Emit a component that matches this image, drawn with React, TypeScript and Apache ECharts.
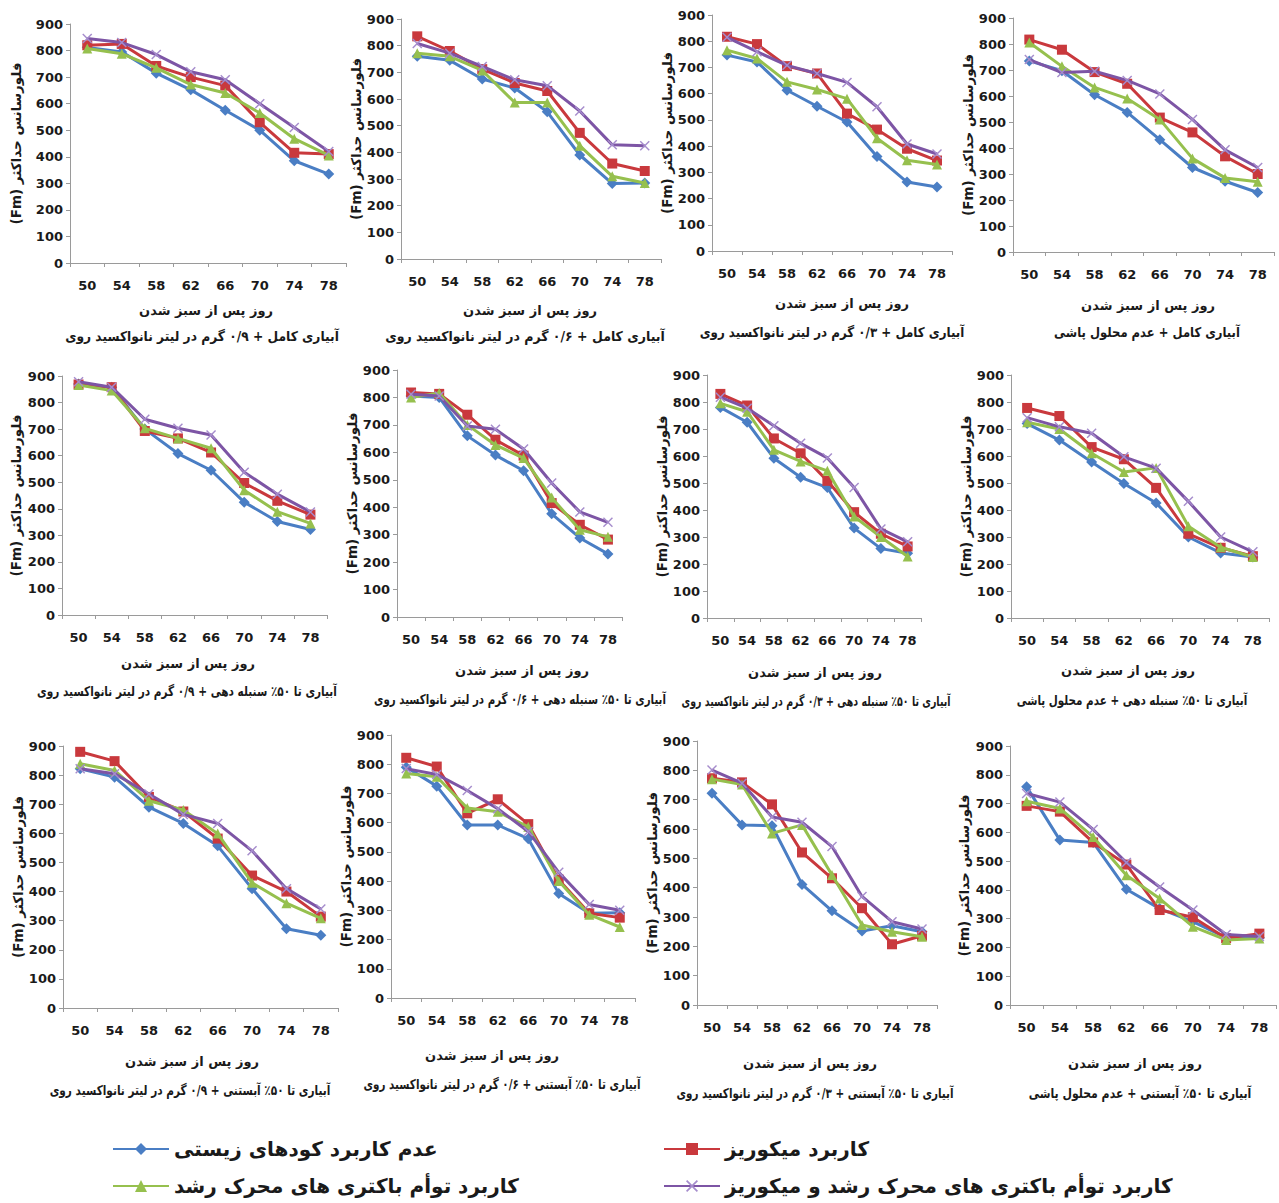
import React, { useEffect, useRef } from "react";
import * as echarts from "echarts";

// ---------- data ----------
const days = ["50", "54", "58", "62", "66", "70", "74", "78"];
const yMin = 0;
const yMax = 900;
const yStep = 100;

const seriesNames = [
  "عدم کاربرد کودهای زیستی",
  "کاربرد میکوریز",
  "کاربرد توأم باکتری های محرک رشد",
  "کاربرد توأم باکتری های محرک رشد و میکوریز",
];

const panelTitles = [
  "آبیاری کامل + ۰/۹ گرم در لیتر نانواکسید روی",
  "آبیاری کامل + ۰/۶ گرم در لیتر نانواکسید روی",
  "آبیاری کامل + ۰/۳ گرم در لیتر نانواکسید روی",
  "آبیاری کامل + عدم محلول پاشی",
  "آبیاری تا ۵۰٪ سنبله دهی + ۰/۹ گرم در لیتر نانواکسید روی",
  "آبیاری تا ۵۰٪ سنبله دهی + ۰/۶ گرم در لیتر نانواکسید روی",
  "آبیاری تا ۵۰٪ سنبله دهی + ۰/۳ گرم در لیتر نانواکسید روی",
  "آبیاری تا ۵۰٪ سنبله دهی + عدم محلول پاشی",
  "آبیاری تا ۵۰٪ آبستنی + ۰/۹ گرم در لیتر نانواکسید روی",
  "آبیاری تا ۵۰٪ آبستنی + ۰/۶ گرم در لیتر نانواکسید روی",
  "آبیاری تا ۵۰٪ آبستنی + ۰/۳ گرم در لیتر نانواکسید روی",
  "آبیاری تا ۵۰٪ آبستنی + عدم محلول پاشی",
];

const xAxisTitle = "روز پس از سبز شدن";
const yAxisTitle = "فلورسانس حداکثر (Fm)";

// each panel: [no biofertilizer, mycorrhiza, PGPR, PGPR + mycorrhiza]
const fullZn09 = [
  [812, 795, 715, 652, 575, 500, 385, 335],
  [820, 825, 742, 700, 668, 530, 415, 410],
  [808, 788, 735, 672, 640, 565, 468, 405],
  [845, 830, 785, 720, 690, 600, 510, 420],
];
const fullZn06 = [
  [760, 745, 675, 641, 552, 390, 283, 285],
  [835, 780, 712, 660, 630, 473, 358, 330],
  [772, 760, 707, 587, 587, 425, 310, 285],
  [808, 772, 722, 672, 650, 555, 428, 425],
];
const fullZn03 = [
  [747, 721, 613, 552, 492, 360, 263, 244],
  [817, 789, 705, 677, 524, 463, 390, 345],
  [766, 734, 645, 616, 581, 430, 346, 330],
  [815, 760, 708, 677, 643, 550, 408, 370],
];
const fullNoSpray = [
  [735, 697, 605, 537, 432, 325, 272, 229],
  [817, 778, 692, 647, 517, 460, 368, 300],
  [806, 714, 633, 590, 510, 360, 285, 270],
  [740, 690, 695, 660, 608, 510, 393, 325],
];
const headZn09 = [
  [870, 858, 700, 608, 545, 425, 352, 322],
  [868, 858, 693, 665, 612, 497, 430, 378],
  [866, 845, 703, 665, 628, 470, 389, 345],
  [878, 858, 737, 703, 678, 538, 455, 388],
];
const headZn06 = [
  [805, 800, 660, 590, 533, 376, 288, 230],
  [818, 813, 737, 646, 588, 415, 336, 282],
  [800, 816, 700, 627, 579, 435, 318, 292],
  [812, 805, 696, 684, 612, 488, 383, 345],
];
const headZn03 = [
  [780, 725, 592, 521, 483, 333, 257, 240],
  [830, 787, 665, 610, 508, 392, 312, 265],
  [795, 764, 623, 580, 545, 376, 300, 228],
  [818, 777, 712, 647, 593, 483, 330, 282],
];
const headNoSpray = [
  [720, 659, 578, 498, 426, 300, 241, 226],
  [778, 748, 633, 588, 482, 312, 260, 229],
  [725, 700, 610, 541, 556, 340, 262, 226],
  [742, 708, 684, 597, 555, 432, 300, 245],
];
const bootZn09 = [
  [822, 793, 690, 634, 557, 410, 272, 250],
  [880, 848, 725, 675, 582, 455, 400, 314],
  [839, 816, 712, 680, 599, 430, 360, 308],
  [822, 805, 735, 665, 634, 540, 410, 340],
];
const bootZn06 = [
  [790, 725, 592, 592, 545, 358, 290, 292],
  [822, 792, 632, 680, 595, 405, 290, 275],
  [768, 757, 650, 637, 586, 400, 285, 243],
  [785, 765, 710, 648, 570, 430, 320, 300],
];
const bootZn03 = [
  [722, 614, 611, 411, 321, 252, 270, 250],
  [773, 759, 684, 520, 432, 330, 207, 236],
  [770, 752, 585, 614, 443, 273, 250, 233],
  [801, 756, 641, 623, 540, 370, 284, 259],
];
const bootNoSpray = [
  [758, 573, 565, 402, 335, 290, 234, 234],
  [692, 672, 565, 488, 330, 305, 232, 248],
  [708, 683, 584, 451, 370, 272, 226, 231],
  [735, 705, 610, 495, 410, 330, 245, 238],
];

const panelData = [
  fullZn09, fullZn06, fullZn03, fullNoSpray,
  headZn09, headZn06, headZn03, headNoSpray,
  bootZn09, bootZn06, bootZn03, bootNoSpray,
];

// ---------- layout & style ----------
// xn: axis-title centre, tt: panel-title centre, ts: horizontal squeeze of the panel title
const layout = [
  { left: 70, top: 24, width: 276, height: 239, yGap: 47, xn: [206, 310], tt: [202, 336], ts: 0.91 },
  { left: 401, top: 19, width: 260, height: 240, yGap: 36, xn: [530, 310], tt: [525, 336], ts: 0.93 },
  { left: 712, top: 15, width: 240, height: 236, yGap: 36, xn: [842, 303], tt: [832, 332], ts: 0.88 },
  { left: 1013, top: 18, width: 261, height: 234, yGap: 35, xn: [1148, 305], tt: [1147, 332], ts: 0.86 },
  { left: 62, top: 376, width: 265, height: 239, yGap: 39, xn: [188, 663], tt: [187, 692], ts: 0.78 },
  { left: 397, top: 370, width: 225, height: 247, yGap: 29, xn: [522, 670], tt: [520, 699], ts: 0.76 },
  { left: 707, top: 375, width: 214, height: 243, yGap: 31, xn: [815, 672], tt: [816, 701], ts: 0.7 },
  { left: 1011, top: 375, width: 258, height: 243, yGap: 35, xn: [1128, 670], tt: [1132, 701], ts: 0.77 },
  { left: 63, top: 746, width: 275, height: 262, yGap: 37, xn: [192, 1061], tt: [190, 1091], ts: 0.78 },
  { left: 391, top: 735, width: 244, height: 263, yGap: 35, xn: [492, 1055], tt: [502, 1085], ts: 0.77 },
  { left: 697, top: 741, width: 240, height: 264, yGap: 34, xn: [810, 1063], tt: [815, 1094], ts: 0.77 },
  { left: 1010, top: 746, width: 266, height: 259, yGap: 39, xn: [1135, 1063], tt: [1140, 1094], ts: 0.81 },
];

const lineColors = ["#4a7ec4", "#c9393d", "#96c04e", "#7d55a5"];
const markerColors = ["#4a7ec4", "#c9393d", "#96c04e", "#a58ccc"];
const xSymbol =
  "path://M1,0 L5,4 L9,0 L10,1 L6,5 L10,9 L9,10 L5,6 L1,10 L0,9 L4,5 L0,1 Z";
const symbols = ["diamond", "rect", "triangle", xSymbol];
const symbolSizes = [11, 10, 10, 10];

const legendPos = [
  { left: 112, top: 1139 },
  { left: 663, top: 1139 },
  { left: 112, top: 1176 },
  { left: 663, top: 1176 },
];

const FONT = "DejaVu Sans";
const TEXT = "#1a1a1a";
const AXIS = "#9a9a9a";

function buildOption() {
  const grid: any[] = [];
  const xAxis: any[] = [];
  const yAxis: any[] = [];
  const series: any[] = [];
  const graphic: any[] = [];

  layout.forEach((g, p) => {
    grid.push({ left: g.left, top: g.top, width: g.width, height: g.height, containLabel: false });
    xAxis.push({
      type: "category",
      gridIndex: p,
      data: days,
      boundaryGap: true,
      axisLine: { lineStyle: { color: AXIS, width: 1 } },
      axisTick: { show: true, length: 4, lineStyle: { color: AXIS } },
      axisLabel: { color: TEXT, fontFamily: FONT, fontWeight: "bold", fontSize: 13, margin: 16 },
      splitLine: { show: false },
    });
    yAxis.push({
      type: "value",
      gridIndex: p,
      min: yMin,
      max: yMax,
      interval: yStep,
      name: "\u202B" + yAxisTitle + "\u202C",
      nameLocation: "middle",
      nameRotate: 90,
      nameGap: g.yGap,
      nameTextStyle: { color: TEXT, fontFamily: FONT, fontWeight: "bold", fontSize: 13.5 },
      axisLine: { show: true, lineStyle: { color: AXIS, width: 1 } },
      axisTick: { show: true, length: 4, lineStyle: { color: AXIS } },
      axisLabel: { color: TEXT, fontFamily: FONT, fontWeight: "bold", fontSize: 13, margin: 7 },
      splitLine: { show: false },
    });
    panelData[p].forEach((vals, s) => {
      series.push({
        type: "line",
        name: seriesNames[s],
        xAxisIndex: p,
        yAxisIndex: p,
        data: vals,
        symbol: symbols[s],
        symbolSize: symbolSizes[s],
        showSymbol: true,
        lineStyle: { width: 3, color: lineColors[s] },
        itemStyle: { color: markerColors[s] },
        z: 2 + s,
      });
    });
    graphic.push({
      type: "text",
      x: g.xn[0],
      y: g.xn[1],
      style: {
        text: xAxisTitle,
        fill: TEXT,
        fontFamily: FONT,
        fontWeight: "bold",
        fontSize: 13,
        align: "center",
        verticalAlign: "middle",
      },
    });
    graphic.push({
      type: "text",
      x: g.tt[0],
      y: g.tt[1],
      scaleX: g.ts,
      style: {
        text: panelTitles[p],
        fill: TEXT,
        fontFamily: FONT,
        fontWeight: "bold",
        fontSize: 13.5,
        align: "center",
        verticalAlign: "middle",
      },
    });
  });

  const legend = seriesNames.map((n, i) => ({
    data: [n],
    left: legendPos[i].left,
    top: legendPos[i].top,
    orient: "horizontal",
    padding: 0,
    itemWidth: 56,
    itemHeight: 15,
    itemGap: 6,
    selectedMode: false,
    textStyle: { color: TEXT, fontFamily: FONT, fontWeight: "bold", fontSize: 20 },
  }));

  return {
    animation: false,
    backgroundColor: "#ffffff",
    grid,
    xAxis,
    yAxis,
    series,
    legend,
    graphic,
  };
}

export default function App() {
  const ref = useRef<HTMLDivElement>(null);
  useEffect(() => {
    if (!ref.current) return;
    const chart = echarts.init(ref.current, null, { renderer: "svg" });
    chart.setOption(buildOption());
    return () => chart.dispose();
  }, []);
  return (
    <div
      ref={ref}
      style={{ position: "absolute", left: 0, top: 0, width: 1279, height: 1203 }}
    />
  );
}
